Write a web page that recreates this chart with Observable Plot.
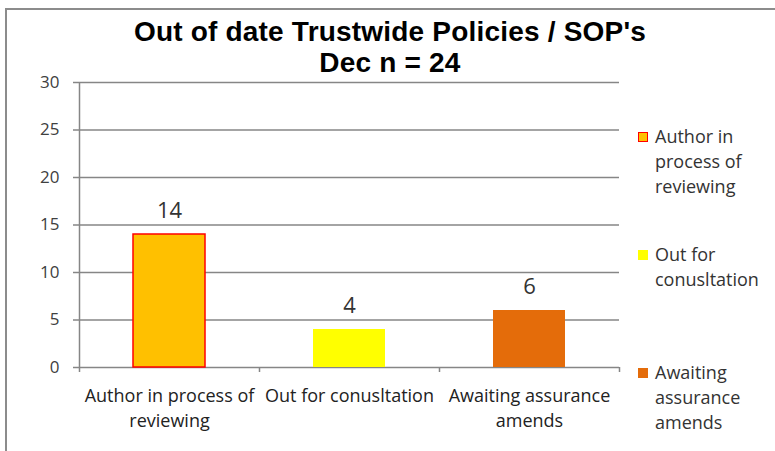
<!DOCTYPE html>
<html>
<head>
<meta charset="utf-8">
<script src="https://cdn.jsdelivr.net/npm/d3@7"></script>
<script src="https://cdn.jsdelivr.net/npm/@observablehq/plot@0.6"></script>
<style>
  html, body { margin: 0; padding: 0; background: #fff; overflow: hidden; }
  #wrap { position: relative; width: 775px; height: 451px; }
  #frame { position: absolute; left: 5px; top: 8px; width: 900px; height: 600px;
           border-left: 2px solid #8c8c8c; border-top: 2px solid #8c8c8c; pointer-events: none; z-index: 3; }
  #title { position: absolute; left: 0; width: 780px; top: 16px; text-align: center;
           font-family: "Liberation Sans", Arial, sans-serif; font-weight: bold; font-size: 28px;
           line-height: 31px; color: #000; z-index: 2; letter-spacing: 0.2px; }
  #title span { display: inline-block; }
  #legend { position: absolute; left: 638px; top: 0; z-index: 2; font-family: "Open Sans", sans-serif;
            font-size: 18px; color: #333; }
  .item { position: absolute; left: 0; width: 140px; }
  .sw { position: absolute; left: 0; top: 8px; width: 10px; height: 10px; box-sizing: border-box; }
  .lab { position: absolute; left: 17px; top: 0; line-height: 25px; white-space: nowrap; }
</style>
</head>
<body>
<div id="wrap">
  <div id="frame"></div>
  <div id="title"><span id="t1"></span><br><span id="t2"></span></div>
  <div id="legend"></div>
  <div id="chart"></div>
</div>
<script>
// ---- data ----
const titleLines = ["Out of date Trustwide Policies / SOP's", "Dec n = 24"];
const categories = ["Author in process of reviewing", "Out for conusltation", "Awaiting assurance amends"];
const categoryLines = [["Author in process of", "reviewing"], ["Out for conusltation"], ["Awaiting assurance", "amends"]];
const legendLines = [["Author in", "process of", "reviewing"], ["Out for", "conusltation"], ["Awaiting", "assurance", "amends"]];
const values = [14, 4, 6];
const fills = ["#FFC000", "#FFFF00", "#E46C0A"];
const strokes = ["#FF0000", null, null];
const yTicks = [0, 5, 10, 15, 20, 25, 30];

const data = categories.map((c, i) => ({
  category: c, index: i, value: values[i], fill: fills[i], stroke: strokes[i],
  label: categoryLines[i].join("\n")
}));

const gridColor = "#868686";
const chart = Plot.plot({
  width: 775,
  height: 451,
  marginLeft: 79,
  marginRight: 156,
  marginTop: 82,
  marginBottom: 84,
  style: { background: "transparent", fontFamily: "'Open Sans', sans-serif", color: "#333" },
  x: { domain: [0, categories.length], axis: null },
  y: { domain: [0, 30], axis: null },
  marks: [
    Plot.ruleY(yTicks, { stroke: gridColor, strokeWidth: 1.5, strokeOpacity: 1 }),
    Plot.axisY({ ticks: yTicks, tickSize: 6, tickPadding: 14, fontSize: 17, stroke: gridColor, strokeWidth: 1.5, strokeOpacity: 1, color: "#404040", label: null }),
    Plot.ruleX([0], { y1: 0, y2: 30, stroke: gridColor, strokeWidth: 1.5 }),
    Plot.axisX({ ticks: d3.range(categories.length + 1), tickFormat: () => "", tickSize: 5, stroke: gridColor, strokeWidth: 1.5, strokeOpacity: 1, label: null }),
    Plot.rectY(data, {
      x1: d => d.index + 0.3, x2: d => d.index + 0.7, y: "value",
      fill: d => d.fill, stroke: d => d.stroke || "none", strokeWidth: 1.5
    }),
    Plot.text(data, {
      x: d => d.index + 0.5, y: "value", text: d => String(d.value),
      dy: -24, fontSize: 22, fill: "#333", lineAnchor: "middle"
    }),
    Plot.text(data, {
      x: d => d.index + 0.5, text: "label", frameAnchor: "bottom",
      dy: 17, lineAnchor: "top", lineHeight: 1.38, fontSize: 18, fill: "#222",
      style: { letterSpacing: "-0.1px" }
    })
  ]
});
document.getElementById("chart").appendChild(chart);

document.getElementById("t1").textContent = titleLines[0];
document.getElementById("t2").textContent = titleLines[1];

const legendTops = [124, 242, 360];
const legend = document.getElementById("legend");
legendLines.forEach((lines, i) => {
  const item = document.createElement("div");
  item.className = "item";
  item.style.top = legendTops[i] + "px";
  const sw = document.createElement("div");
  sw.className = "sw";
  sw.style.background = fills[i];
  if (strokes[i]) sw.style.border = "1.5px solid " + strokes[i];
  const lab = document.createElement("div");
  lab.className = "lab";
  lab.innerHTML = lines.map(l => l.replace(/&/g, "&amp;").replace(/</g, "&lt;")).join("<br>");
  item.appendChild(sw);
  item.appendChild(lab);
  legend.appendChild(item);
});
</script>
</body>
</html>
